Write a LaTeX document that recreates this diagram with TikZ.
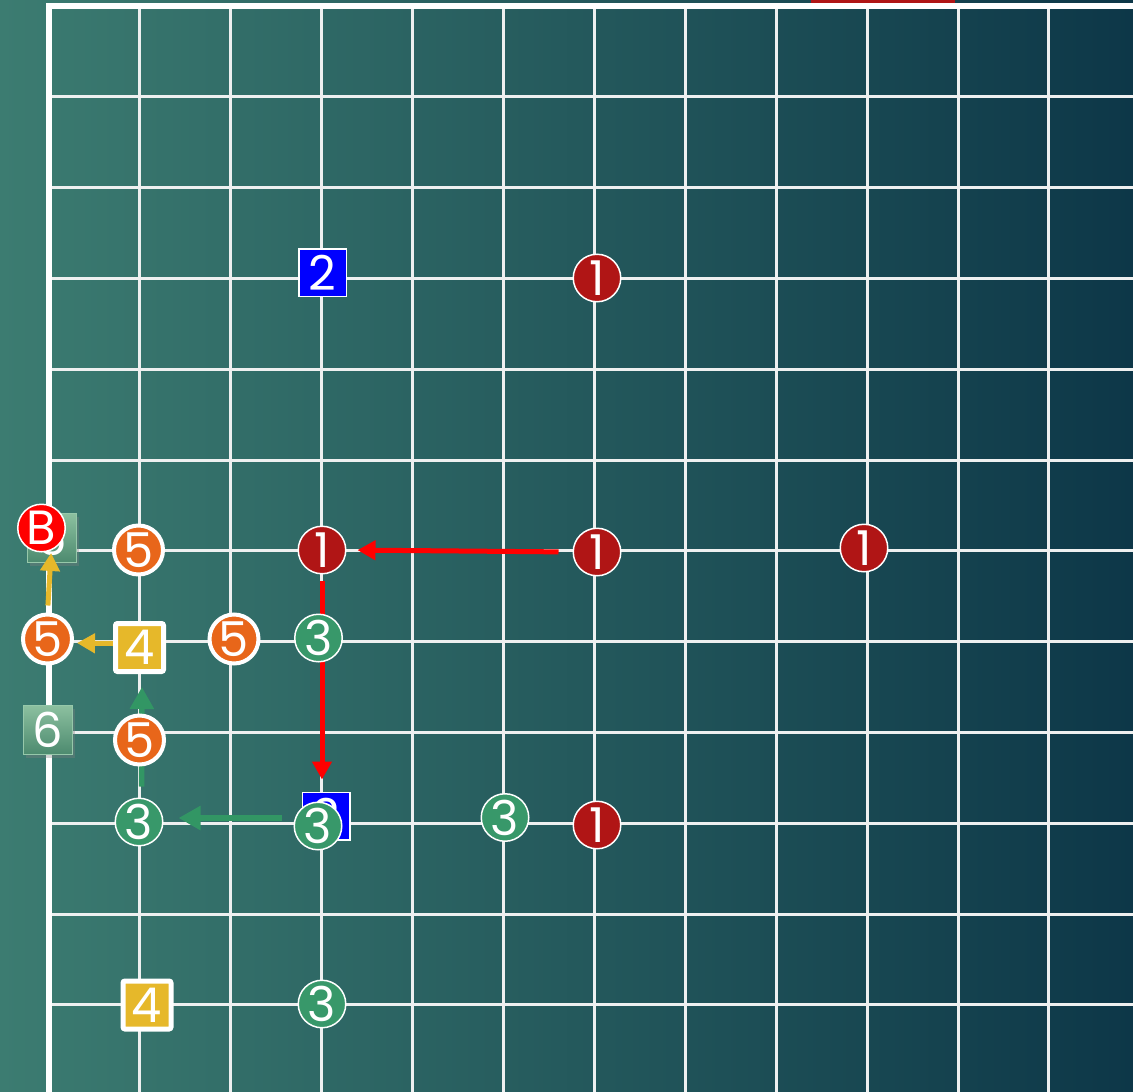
\documentclass[tikz,border=0pt]{standalone}
\usepackage{fontspec}
\newfontfamily\piecefont{Poppins}
\usetikzlibrary{arrows.meta,shadows}
\pgfdeclarelayer{back}
\pgfdeclarelayer{arrowlayer}
\pgfsetlayers{back,arrowlayer,main}
\definecolor{bgL}{RGB}{60,124,113}
\definecolor{bgR}{RGB}{13,55,72}
\definecolor{dred}{RGB}{176,21,21}
\definecolor{pgreen}{RGB}{56,152,106}
\definecolor{porange}{RGB}{232,102,26}
\definecolor{pyellow}{RGB}{230,184,42}
\definecolor{pblue}{RGB}{0,0,255}
\definecolor{bred}{RGB}{255,0,0}
\definecolor{gtop}{RGB}{140,192,160}
\definecolor{gbot}{RGB}{76,138,110}
\definecolor{gedge}{RGB}{150,200,170}
\definecolor{gridc}{RGB}{238,240,240}
\definecolor{arrgreen}{RGB}{50,150,100}
\begin{document}
\begin{tikzpicture}[x=1pt,y=-1pt,
  gridline/.style={draw=gridc,line width=3pt},
  piece/.style={inner sep=0pt,text=white,font=\piecefont\fontsize{48}{48}\selectfont},
  redpc/.style={piece,circle,fill=dred,draw=white,line width=1.5pt,minimum size=47.5pt},
  greenpc/.style={piece,circle,fill=pgreen,draw=white,line width=1.5pt,minimum size=47.5pt},
  orangepc/.style={piece,circle,fill=porange,draw=white,line width=4pt,minimum size=49pt},
  bluesq/.style={piece,rectangle,fill=pblue,draw=white,line width=1.5pt,minimum size=47.5pt},
  yellowsq/.style={piece,rectangle,fill=pyellow,draw=white,line width=5pt,minimum size=48pt,rounded corners=2pt},
  graysq/.style={piece,rectangle,top color=gtop,bottom color=gbot,draw=gedge,line width=1pt,minimum size=49pt,drop shadow={shadow xshift=2pt,shadow yshift=-3pt,opacity=0.35}},
  bpc/.style={piece,circle,fill=bred,draw=white,line width=1.5pt,minimum size=47.5pt},
  redarr/.style={draw=bred,line width=5pt,-{Triangle[width=19pt,length=18pt]}},
  greenarr/.style={draw=arrgreen,line width=5.5pt,-{Triangle[width=23pt,length=22pt]}},
  yellowarr/.style={draw=pyellow,line width=5pt,-{Triangle[width=19pt,length=18pt]}}
]
\useasboundingbox (0,0) rectangle (1133,1092);
\begin{pgfonlayer}{back}
\shade[left color=bgL,right color=bgR] (0,0) rectangle (1133,1092);
\foreach \i in {1,...,11} \draw[gridline] ({49+90.9*\i},6) -- ({49+90.9*\i},1092);
\foreach \j in {1,...,11} \draw[gridline] (49,{6+90.8*\j}) -- (1133,{6+90.8*\j});
\fill[dred] (811,0) rectangle (955,4);
\draw[white,line width=5.5pt] (49,1092) -- (49,6) -- (1133,6);
\node[graysq] (g6b) at (52,538) {6};
\node[graysq] (g6a) at (48,730) {6};
\end{pgfonlayer}
% pieces
\node[bluesq] (bsq) at (326,816) {2};
\node[bluesq] (b2) at (322.5,272.5) {2};
\node[redpc] (r1a) at (322,550) {1};
\node[redpc] (r1b) at (597,552) {1};
\node[redpc] (r1c) at (597,278) {1};
\node[redpc] (r1d) at (864,548) {1};
\node[redpc] (r1e) at (597,825) {1};
\node[greenpc] (g3a) at (318.5,638) {3};
\node[greenpc] (g3b) at (505,817.5) {3};
\node[greenpc] (g3c) at (318,826) {3};
\node[greenpc] (g3d) at (139,822) {3};
\node[greenpc] (g3e) at (322,1004) {3};
\node[yellowsq] (y4a) at (139.5,647.5) {4};
\node[yellowsq] (y4b) at (147,1005) {4};
\node[orangepc] (o5a) at (138.5,550) {5};
\node[orangepc] (o5b) at (47.5,639) {5};
\node[orangepc] (o5c) at (234,639) {5};
\node[orangepc] (o5d) at (139.5,740) {5};
\node[bpc] (bb) at (41.5,528) {B};
% arrows
\begin{pgfonlayer}{arrowlayer}
\draw[redarr,shorten <=14pt,shorten >=11pt] (r1b.west) -- (r1a.east);
\draw[redarr,shorten <=6pt,shorten >=12pt] (r1a.south) -- (r1a.south |- bsq.north);
\draw[greenarr,shorten <=12pt,shorten >=15pt] ([yshift=8pt]g3c.west) -- ([yshift=4pt]g3d.east);
\draw[greenarr,shorten <=11pt,shorten >=13pt] ([xshift=2.5pt]g3d.north) -- ([xshift=2.5pt]y4a.south);
\draw[yellowarr,shorten <=-4pt,shorten >=3pt] ([yshift=4pt]y4a.west) -- ([yshift=-4pt]o5b.east);
\draw[yellowarr,shorten <=7pt,shorten >=15pt] (o5b.north) -- (g6b.center);
\end{pgfonlayer}
\end{tikzpicture}
\end{document}
